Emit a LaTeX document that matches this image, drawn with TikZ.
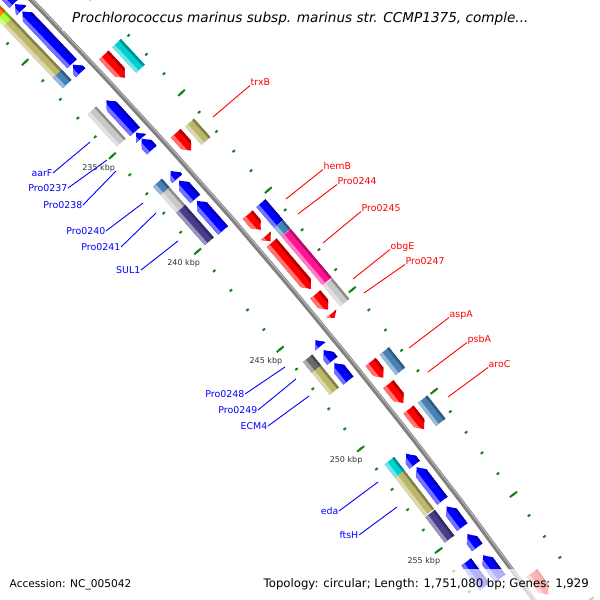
\documentclass[tikz,border=0pt]{standalone}
\usepackage{fontspec}
\setmainfont{DejaVu Sans}
\definecolor{fwdred}{RGB}{255,0,0}
\definecolor{revblue}{RGB}{0,0,255}
\definecolor{cogkhaki}{RGB}{189,183,107}
\definecolor{cogcyan}{RGB}{0,206,209}
\definecolor{coggray}{RGB}{200,200,200}
\definecolor{cogsteel}{RGB}{70,130,180}
\definecolor{cogpink}{RGB}{255,20,147}
\definecolor{cogpurple}{RGB}{72,61,139}
\definecolor{cogdim}{RGB}{105,105,105}
\definecolor{cogorange}{RGB}{255,140,0}
\definecolor{coglime}{RGB}{173,255,47}
\definecolor{tickgreen}{RGB}{20,130,20}
\definecolor{kbpgray}{RGB}{51,51,51}
\definecolor{bbgray}{RGB}{128,128,128}
% point at position #1 (kbp) and radial offset #2 from the inner ruler
\newcommand{\pp}[2]{({-40.94+(#1-240)*0.2756}:{5324+#2})}
% feature with light inner edge and dark outer edge
\newcommand{\featurebody}[2]{%
  \fill[#1] #2;
  \begin{scope}
    \clip #2;
    \fill[#1!55!white] \pp{\ka-0.5}{\slotc-\sloth} -- \pp{\kb+0.5}{\slotc-\sloth} -- \pp{\kb+0.5}{\slotc-0.4*\sloth} -- \pp{\ka-0.5}{\slotc-0.4*\sloth} -- cycle;
    \fill[#1!70!black] \pp{\ka-0.5}{\slotc+0.6*\sloth} -- \pp{\kb+0.5}{\slotc+0.6*\sloth} -- \pp{\kb+0.5}{\slotc+\sloth} -- \pp{\ka-0.5}{\slotc+\sloth} -- cycle;
  \end{scope}}

\begin{document}
\begin{tikzpicture}[x=1pt,y=-1pt,
    ruletick/.style={draw=tickgreen, line width=2pt},
    backbone/.style={draw=bbgray, line width=4.6pt},
    kbplabel/.style={font=\fontsize{8}{9}\selectfont, text=kbpgray, inner sep=0pt},
    outerlabel/.style={font=\fontsize{9.4}{11}\selectfont, text=fwdred, inner sep=0.5pt},
    innerlabel/.style={font=\fontsize{9.4}{11}\selectfont, text=revblue, inner sep=0.5pt},
    outerline/.style={draw=fwdred, line width=0.9pt},
    innerline/.style={draw=revblue, line width=0.9pt},
    legendbox/.style={fill=white, fill opacity=0.7},
    legendtext/.style={font=\fontsize{11.7}{13}\selectfont, inner sep=0pt}]

  \useasboundingbox (0,0) rectangle (600,600);
  \begin{scope}
    \clip (0,0) rectangle (600,600);
    \begin{scope}[shift={(-3824,3740)}]
      % ruler rings
      \foreach \k in {224,...,262} {
        \draw[ruletick] \pp{\k}{-1.5} -- \pp{\k}{1.5};
        \draw[ruletick] \pp{\k}{92} -- \pp{\k}{95};
      }
      \foreach \k in {230,235,...,260} {
        \draw[ruletick] \pp{\k}{-4.5} -- \pp{\k}{4.5};
        \draw[ruletick] \pp{\k}{89} -- \pp{\k}{98};
      }
      \foreach \k in {235,240,...,255}
        \node[kbplabel] (kbp\k) at ({-40.94+(\k-240)*0.2756}:{5324-18.5}) {\k\ kbp};

      % backbone
      \draw[backbone] plot[domain=224:263, samples=40] ({-40.94+(\x-240)*0.2756}:{5371.5});
      \draw[draw=bbgray!55, line width=1pt] plot[domain=224:263, samples=40] ({-40.94+(\x-240)*0.2756}:{5372.6});

      % outer COG slot
      \def\slotc{79.5}\def\sloth{6}
      \foreach \ka/\kb/\col in {231.9/233.25/cogcyan, 236.05/237.0/cogkhaki,
          240.19/241.24/revblue, 241.25/241.68/cogsteel, 241.7/244.13/cogpink,
          244.17/245.2/coggray, 247.6/248.6/cogsteel, 249.97/251.1/cogsteel}
        \featurebody{\col}{\pp{\ka}{\slotc-\sloth} -- \pp{\kb}{\slotc-\sloth} -- \pp{\kb}{\slotc+\sloth} -- \pp{\ka}{\slotc+\sloth} -- cycle};

      % inner COG slot
      \def\slotc{15.5}\def\sloth{6}
      \foreach \ka/\kb/\col in {227.3/228.05/cogorange, 228.05/228.4/coglime,
          228.4/231.2/cogkhaki, 231.2/231.75/cogsteel, 233.15/234.85/coggray,
          236.95/237.4/cogsteel, 237.4/238.32/coggray, 238.32/240.0/cogpurple,
          245.95/246.5/cogdim, 246.5/247.6/cogkhaki, 251.05/251.72/cogcyan,
          251.72/253.6/cogkhaki, 253.65/254.9/cogpurple, 256.0/257.2/revblue}
        \featurebody{\col}{\pp{\ka}{\slotc-\sloth} -- \pp{\kb}{\slotc-\sloth} -- \pp{\kb}{\slotc+\sloth} -- \pp{\ka}{\slotc+\sloth} -- cycle};

      % forward strand genes
      \def\slotc{62}\def\sloth{6.5}
      \foreach \ka/\kb in {231.9/233.1, 236.0/236.9, 240.2/240.97, 241.27/241.55,
          241.62/243.96, 244.23/245.0, 245.2/245.4, 247.6/248.38, 248.7/249.63,
          249.95/250.91, 257.85/258.9} {
        \pgfmathsetmacro\kh{max(\ka,\kb-0.3)}
        \featurebody{fwdred}{\pp{\ka}{\slotc-\sloth} -- \pp{\kh}{\slotc-\sloth} -- \pp{\kb}{\slotc} -- \pp{\kh}{\slotc+\sloth} -- \pp{\ka}{\slotc+\sloth} -- cycle}
      }

      % reverse strand genes
      \def\slotc{33}\def\sloth{6.5}
      \foreach \ka/\kb in {226.0/228.05, 228.1/228.45, 228.5/231.3, 231.35/231.78,
          233.25/234.9, 234.95/235.25, 235.27/235.86, 236.95/237.35, 237.45/238.4,
          238.5/240.03, 245.6/245.9, 246.1/246.63, 246.75/247.62, 251.24/251.78,
          251.9/253.54, 253.82/254.82, 255.16/255.8, 256.18/257.3} {
        \pgfmathsetmacro\kh{min(\kb,\ka+0.3)}
        \featurebody{revblue}{\pp{\kb}{\slotc-\sloth} -- \pp{\kh}{\slotc-\sloth} -- \pp{\ka}{\slotc} -- \pp{\kh}{\slotc+\sloth} -- \pp{\kb}{\slotc+\sloth} -- cycle}
      }
    \end{scope}

    % gene labels
    \foreach \name/\x/\y/\ex/\ey in {trxB/250/82/213/117, hemB/323/166/286/199,
        Pro0244/337/181/298/214, Pro0245/361/208/323/243, obgE/390/246/353/279,
        Pro0247/405/261/364/293, aspA/449/314/409/348, psbA/467/339/428/372,
        aroC/488/364/448/397} {
      \node[outerlabel, anchor=base west] (\name) at (\x,\y+3.5) {\name};
      \coordinate (\name-end) at (\ex,\ey);
      \draw[outerline] (\name.base west) -- (\name-end);
    }
    \foreach \name/\x/\y/\ex/\ey in {aarF/53/173/90/142, Pro0237/68/188/107/160,
        Pro0238/83/205/116/171, Pro0240/106/231/143/203, Pro0241/121/247/156/213,
        SUL1/141/270/178/241, Pro0248/245/394/285/367, Pro0249/258/410/296/379,
        ECM4/268/426/309/396, eda/339/511/378/482, ftsH/359/535/397/507} {
      \node[innerlabel, anchor=east] (\name) at (\x,\y) {\name};
      \coordinate (\name-end) at (\ex,\ey);
      \draw[innerline] (\name.east) -- (\name-end);
    }

    % legend boxes
    \fill[legendbox] (62,0) rectangle (540,31);
    \fill[legendbox] (0,568) rectangle (136,600);
    \fill[legendbox] (253,569) rectangle (600,600);
  \end{scope}

  \node[legendtext, anchor=base west, font=\fontsize{13.6}{15}\selectfont\itshape] (title) at (72,22.5)
    {Prochlorococcus marinus subsp. marinus str. CCMP1375, comple...};
  \node[legendtext, anchor=base west, font=\fontsize{10.6}{13}\selectfont] (accession) at (9.5,587) {Accession: NC\_005042};
  \node[legendtext, anchor=base east] (topology) at (589,587) {Topology: circular; Length: 1,751,080 bp; Genes: 1,929};

\end{tikzpicture}
\end{document}
